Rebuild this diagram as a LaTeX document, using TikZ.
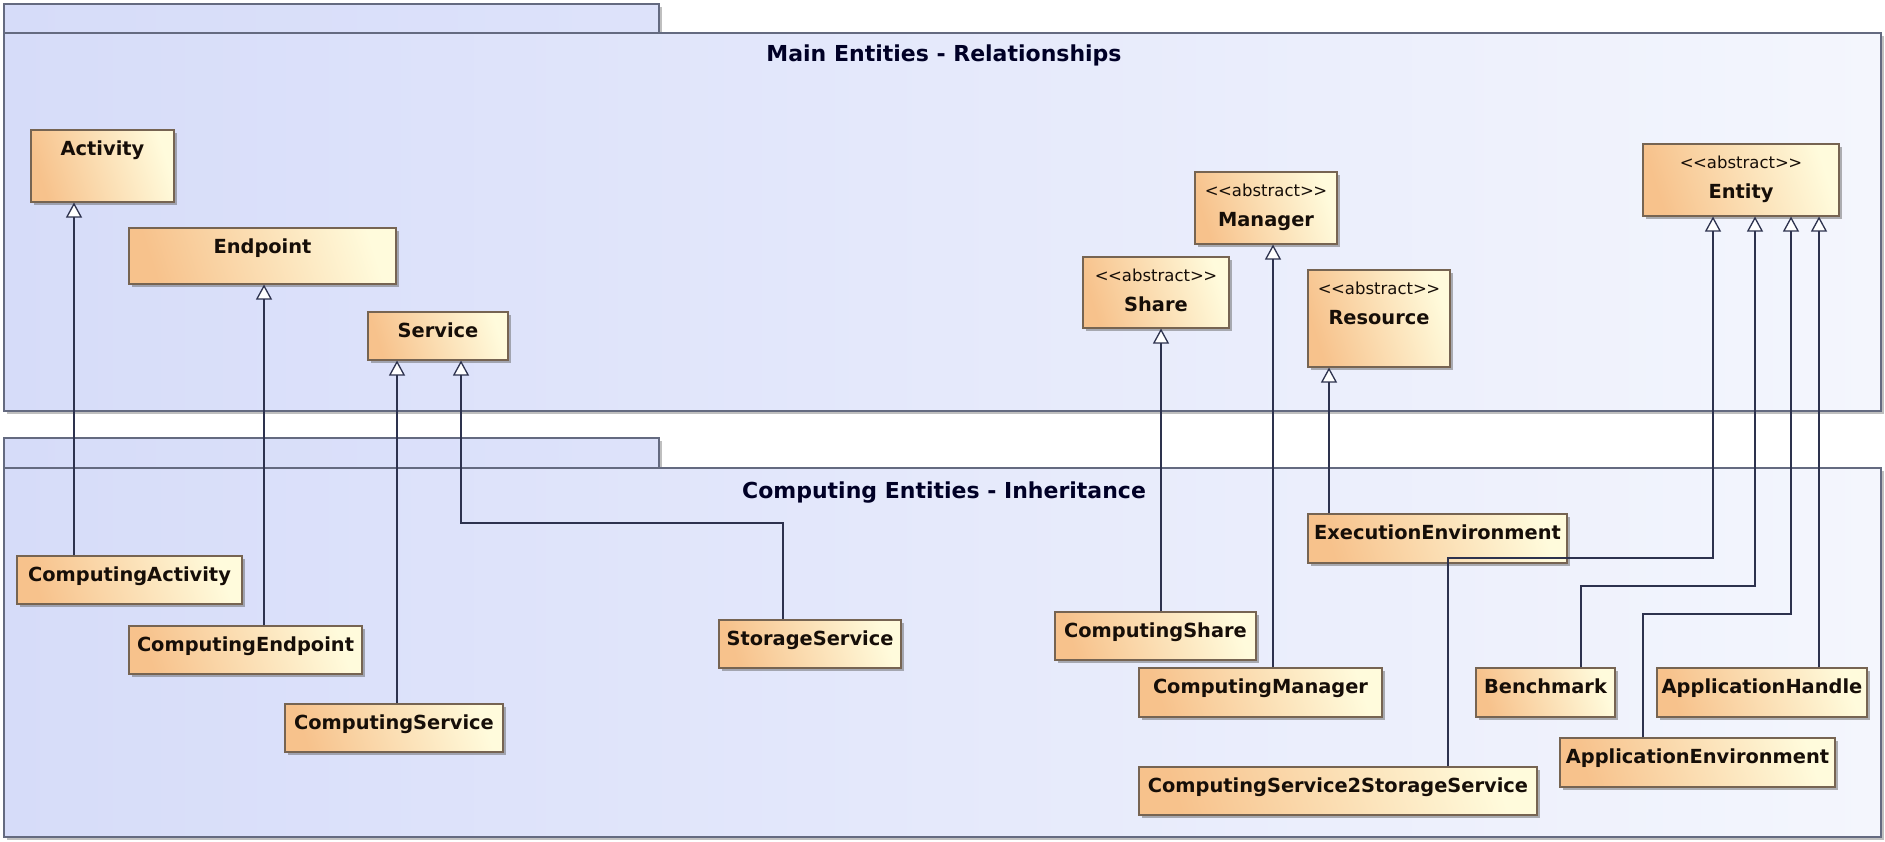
\documentclass[tikz,border=0pt]{standalone}
\usepackage{fontspec}
\setmainfont{DejaVu Sans}
\usetikzlibrary{arrows.meta,shadows,fit,calc}

\definecolor{pkgL}{RGB}{214,220,249}
\definecolor{pkgR}{RGB}{244,246,253}
\definecolor{pkgLine}{RGB}{100,106,128}
\definecolor{clsA}{RGB}{247,194,140}
\definecolor{clsB}{RGB}{255,251,220}
\definecolor{clsLine}{RGB}{118,100,82}
\definecolor{wire}{RGB}{45,50,78}
\definecolor{ink}{RGB}{22,14,8}

\tikzset{
  pkg/.style={draw=pkgLine, line width=1.4pt, inner sep=0pt,
    left color=pkgL, right color=pkgR,
    drop shadow={shadow xshift=3pt, shadow yshift=-3pt, fill=black!55, opacity=0.45}},
  pkgtab/.style={pkg, right color=pkgL!75!pkgR},
  cls/.style={draw=clsLine, line width=1.1pt, inner sep=0pt,
    left color=clsA, right color=clsB, shading angle=108,
    drop shadow={shadow xshift=3pt, shadow yshift=-3pt, fill=black!60, opacity=0.5}},
  lbl/.style={font=\bfseries\fontsize{19.4}{22}\selectfont, text=ink, inner sep=0pt, anchor=base},
  ster/.style={font=\fontsize{16.5}{20}\selectfont, text=ink, inner sep=0pt, anchor=base},
  ttl/.style={font=\bfseries\fontsize{22}{25}\selectfont, text=black!85!blue, inner sep=0pt, anchor=base},
  gen/.style={draw=wire, line width=1.3pt,
    -{Triangle[open, length=15pt, width=16pt, fill=white]}}
}

% plain class: name, x1, y1, x2, y2, label
\newcommand\umlclass[6]{%
  \node[cls, fit={(#2,#3)(#4,#5)}] (#1) {};
  \node[lbl] (#1-n) at ($(#1.north)+(0,26.5)$) {#6};
}
% abstract class with stereotype line
\newcommand\umlabstract[6]{%
  \node[cls, fit={(#2,#3)(#4,#5)}] (#1) {};
  \node[ster] (#1-s) at ($(#1.north)+(0,25)$) {<\kern-0.5pt<abstract>\kern-0.5pt>};
  \node[lbl] (#1-n) at ($(#1.north)+(0,55.5)$) {#6};
}

\begin{document}
\begin{tikzpicture}[x=1pt,y=-1pt]
  \useasboundingbox[fill=white] (0,0) rectangle (1885,841);

  % packages
  \node[pkgtab, fit={(4,4)(659,33)}] (mainTab) {};
  \node[pkg, fit={(4,33)(1881,411)}] (mainBody) {};
  \node[ttl] (mainTitle) at (944,61) {Main Entities - Relationships};

  \node[pkgtab, fit={(4,438)(659,468)}] (compTab) {};
  \node[pkg, fit={(4,468)(1881,837)}] (compBody) {};
  \node[ttl] (compTitle) at (944,498) {Computing Entities - Inheritance};

  % main entities
  \umlclass{act}{31}{130}{174}{202}{Activity}
  \umlclass{endp}{129}{228}{396}{284}{Endpoint}
  \umlclass{srv}{368}{312}{508}{360}{Service}
  \umlabstract{mgr}{1195}{172}{1337}{244}{Manager}
  \umlabstract{share}{1083}{257}{1229}{328}{Share}
  \umlabstract{res}{1308}{270}{1450}{367}{Resource}
  \umlabstract{ent}{1643}{144}{1839}{216}{Entity}

  % computing entities
  \umlclass{cact}{17}{556}{242}{604}{ComputingActivity}
  \umlclass{cend}{129}{626}{362}{674}{ComputingEndpoint}
  \umlclass{csrv}{285}{704}{503}{752}{ComputingService}
  \umlclass{ssrv}{719}{620}{901}{668}{StorageService}
  \umlclass{exenv}{1308}{514}{1567}{563}{ExecutionEnvironment}
  \umlclass{cshare}{1055}{612}{1256}{660}{ComputingShare}
  \umlclass{cman}{1139}{668}{1382}{717}{ComputingManager}
  \umlclass{cs2ss}{1139}{767}{1537}{815}{ComputingService2StorageService}
  \umlclass{bench}{1476}{668}{1615}{717}{Benchmark}
  \umlclass{appenv}{1560}{738}{1835}{787}{ApplicationEnvironment}
  \umlclass{apph}{1657}{668}{1867}{717}{ApplicationHandle}

  % routing points of the generalisations
  \coordinate (k1) at (74,0);
  \coordinate (k2) at (264,0);
  \coordinate (k3) at (397,0);
  \coordinate (k4a) at (783,523);
  \coordinate (k4b) at (461,523);
  \coordinate (k5) at (1161,0);
  \coordinate (k6) at (1273,0);
  \coordinate (k7) at (1329,0);
  \coordinate (k8a) at (1448,558);
  \coordinate (k8b) at (1713,558);
  \coordinate (k9a) at (1581,586);
  \coordinate (k9b) at (1755,586);
  \coordinate (k10a) at (1643,614);
  \coordinate (k10b) at (1791,614);
  \coordinate (k11) at (1819,0);

  % generalisations (child -> parent)
  \draw[gen] (cact.north -| k1) -- (act.south -| k1);
  \draw[gen] (cend.north -| k2) -- (endp.south -| k2);
  \draw[gen] (csrv.north -| k3) -- (srv.south -| k3);
  \draw[gen] (ssrv.north -| k4a) -- (k4a) -- (k4b) -- (srv.south -| k4b);
  \draw[gen] (cshare.north -| k5) -- (share.south -| k5);
  \draw[gen] (cman.north -| k6) -- (mgr.south -| k6);
  \draw[gen] (exenv.north -| k7) -- (res.south -| k7);
  \draw[gen] (cs2ss.north -| k8a) -- (k8a) -- (k8b) -- (ent.south -| k8b);
  \draw[gen] (bench.north -| k9a) -- (k9a) -- (k9b) -- (ent.south -| k9b);
  \draw[gen] (appenv.north -| k10a) -- (k10a) -- (k10b) -- (ent.south -| k10b);
  \draw[gen] (apph.north -| k11) -- (ent.south -| k11);
\end{tikzpicture}
\end{document}
